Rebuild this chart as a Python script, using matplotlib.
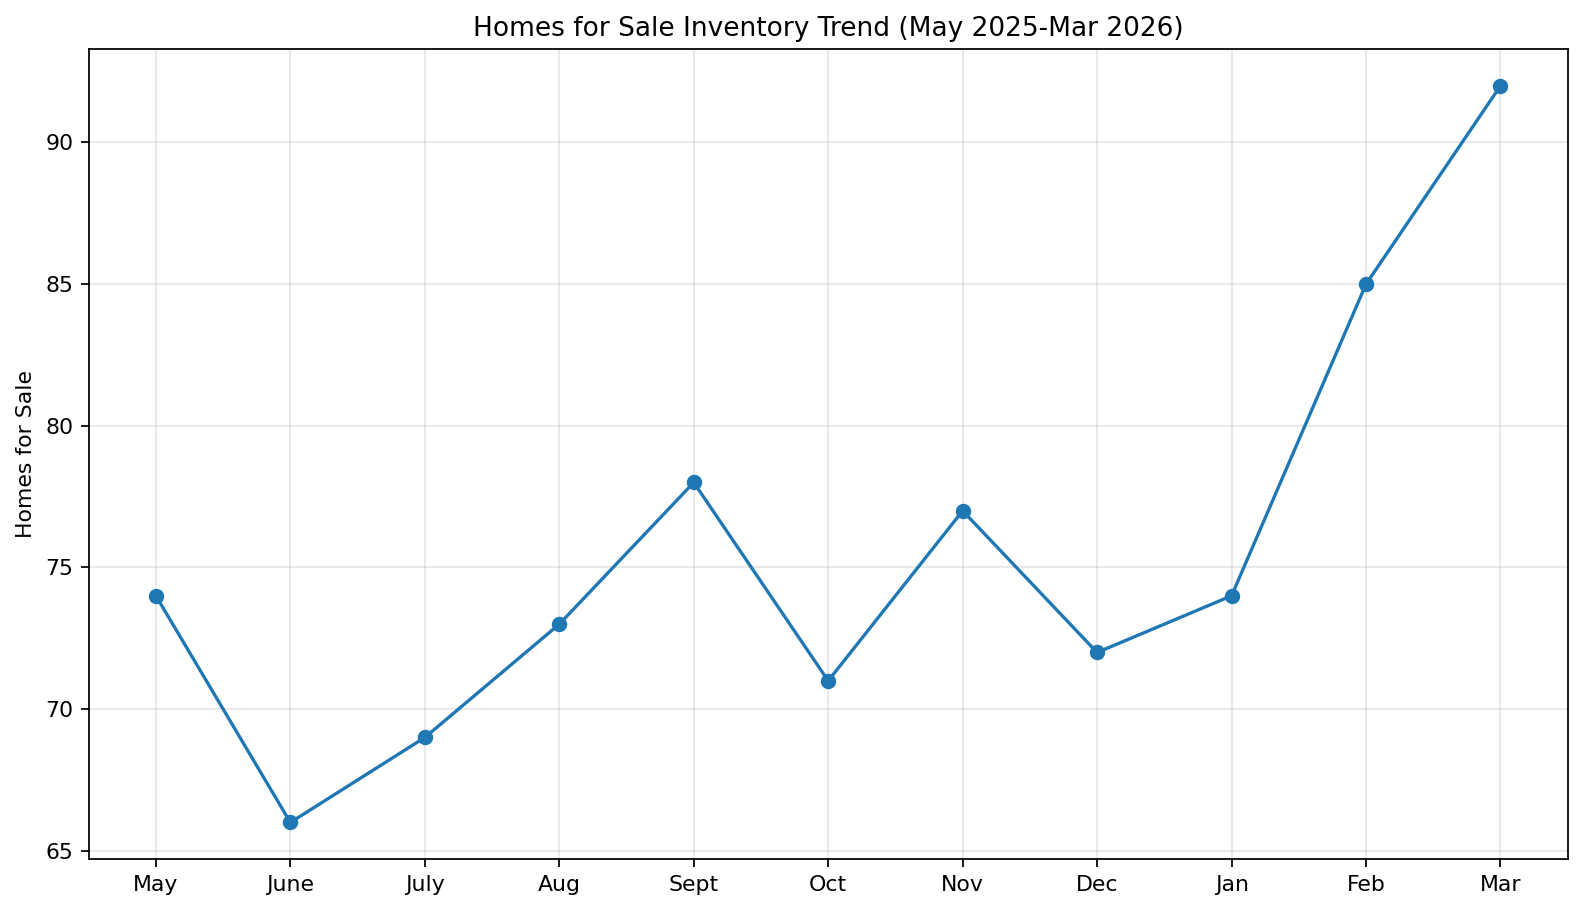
import matplotlib
matplotlib.use("Agg")
import matplotlib.pyplot as plt

months = ["May", "June", "July", "Aug", "Sept", "Oct", "Nov", "Dec", "Jan", "Feb", "Mar"]
homes_for_sale = [74, 66, 69, 73, 78, 71, 77, 72, 74, 85, 92]

fig, ax = plt.subplots(figsize=(10, 5.7576), dpi=158.4)
fig.subplots_adjust(left=88.7 / 1584, right=1567.7 / 1584, top=1 - 49 / 912, bottom=1 - 859.3 / 912)
ax.plot(months, homes_for_sale, marker="o", color="#1f77b4", linewidth=1.5, markersize=6)
ax.set_title("Homes for Sale Inventory Trend (May 2025-Mar 2026)")
ax.set_ylabel("Homes for Sale")
ax.grid(True, alpha=0.3)
fig.savefig("out.png", dpi=158.4)
